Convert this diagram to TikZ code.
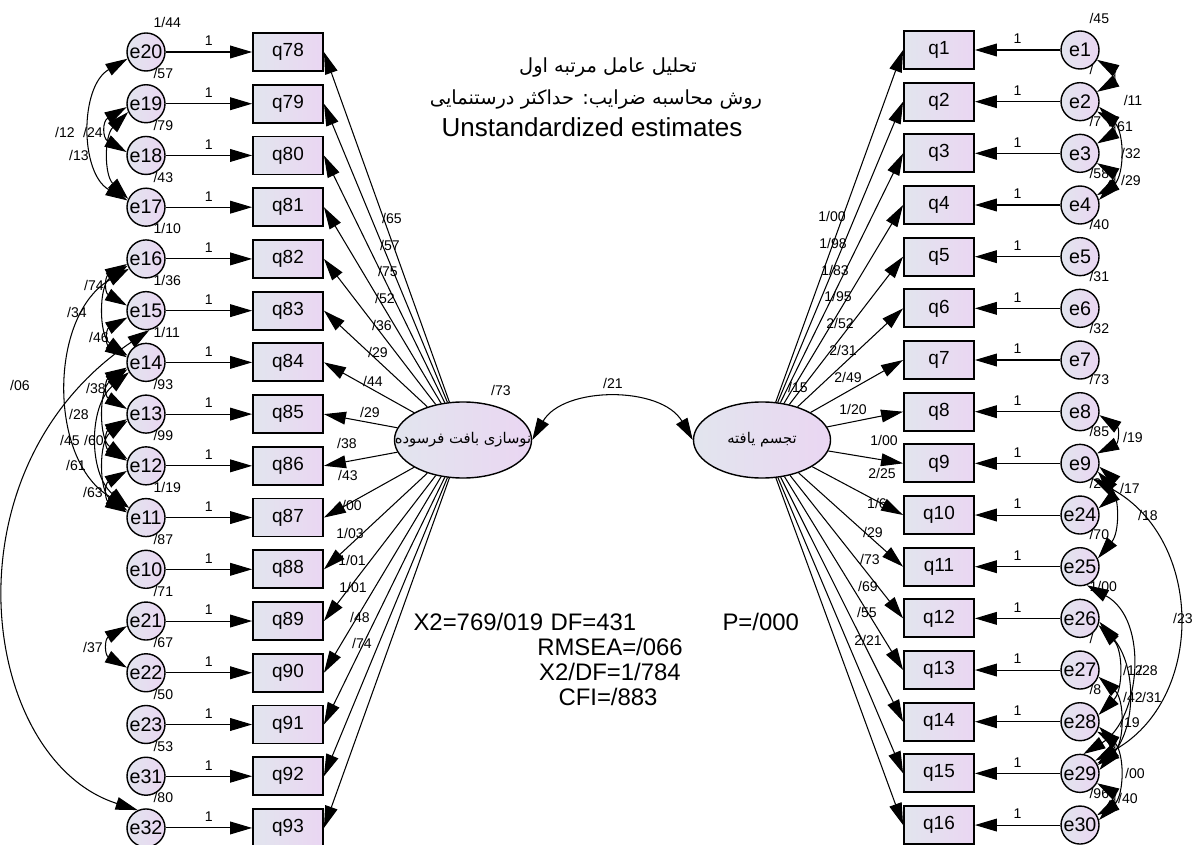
\documentclass[tikz,border=0pt]{standalone}
\usepackage{fontspec}
\setmainfont{Liberation Sans}
\newfontfamily\farsi[Script=Arabic]{DejaVu Sans}
\TeXXeTstate=1
\usetikzlibrary{arrows.meta, shapes.geometric}
\tikzset{>={Triangle[width=3.2mm,length=5.5mm]}}
\definecolor{fillA}{RGB}{226,229,238}
\definecolor{fillB}{RGB}{234,214,242}

\begin{document}
\begin{tikzpicture}[
    x = 0.025cm, y = -0.025cm,
    line width = 0.75pt,
    err/.style = {circle, draw, line width=1pt, minimum size=0.95cm,
        inner sep=0pt, left color=fillA, right color=fillB,
        font=\fontsize{14}{14}\selectfont},
    obs/.style = {rectangle, draw, line width=1.3pt, minimum width=1.75cm,
        minimum height=0.95cm, inner sep=0pt, left color=fillA,
        right color=fillB, font=\fontsize{13.5}{14}\selectfont},
    lat/.style = {ellipse, draw, line width=1pt, minimum width=3.425cm,
        minimum height=1.9cm, inner sep=0pt, left color=fillA,
        right color=fillB, font=\farsi\fontsize{10.5}{10.5}\selectfont},
    est/.style = {font=\fontsize{10}{10}\selectfont, inner sep=0pt},
    fit/.style = {font=\fontsize{17}{17}\selectfont, inner sep=0pt}
  ]
  \useasboundingbox (0,0) rectangle (1200,845);

  % title
  \node[font=\farsi\fontsize{13.8}{14}\selectfont] (t1) at (608,68)
    {\beginR تحلیل عامل مرتبه اول\endR};
  \node[font=\farsi\fontsize{13.8}{14}\selectfont] (t2) at (596,100)
    {\beginR روش محاسبه ضرایب: حداکثر درستنمایی\endR};
  \node[font=\fontsize{18.5}{18.5}\selectfont] (t3) at (592,127)
    {Unstandardized estimates};

  % latent variables
  \node[lat] (F1) at (463,440) {\makebox[0pt]{\beginR نوسازی بافت فرسوده\endR}};
  \node[lat] (F2) at (762,440) {\makebox[0pt]{\beginR تجسم یافته\endR}};
  \draw[<->] (F1.east) to[out=60, in=120] (F2.west);
  \node[est] (vF1) at (501,390) {/73};
  \node[est] (vF2) at (798,387) {/15};
  \node[est] (cF) at (613,383) {/21};

  % left indicators
  \foreach \e/\q/\v [count=\i from 0] in {20/78/{1/44}, 19/79/{/57},
      18/80/{/79}, 17/81/{/43}, 16/82/{1/10}, 15/83/{1/36}, 14/84/{1/11},
      13/85/{/93}, 12/86/{/99}, 11/87/{1/19}, 10/88/{/87}, 21/89/{/71},
      22/90/{/67}, 23/91/{/50}, 31/92/{/53}, 32/93/{/80}} {
    \node[err] (e\e) at (146, 52+51.73*\i) {e\e};
    \node[obs] (q\q) at (288, 52+51.73*\i) {q\q};
    \draw[->] (e\e) -- node[est, above=4pt] {1} (q\q);
    \node[est, anchor=west] (v\e) at (153, 22+51.73*\i) {\v};
  }

  % right indicators
  \foreach \e/\q/\v [count=\i from 0] in {1/1/{/45}, 2/2/{/}, 3/3/{/7},
      4/4/{/58}, 5/5/{/40}, 6/6/{/31}, 7/7/{/32}, 8/8/{/73}, 9/9/{/85},
      24/10/{/27}, 25/11/{/70}, 26/12/{1/00}, 27/13/{/}, 28/14/{/8},
      29/15/{}, 30/16/{/96}} {
    \node[err] (e\e) at (1080, 50+51.67*\i) {e\e};
    \node[obs] (q\q) at (939, 50+51.67*\i) {q\q};
    \draw[->] (e\e) -- node[est, above=4pt] {1} (q\q);
    \node[est, anchor=west] (v\e) at (1089, 18+51.67*\i) {\v};
  }

  % loadings
  \foreach \q in {78,...,93} \draw[->] (F1) -- (q\q.east);
  \foreach \q in {1,...,16} \draw[->] (F2) -- (q\q.west);
  \foreach \v/\lx/\ly [count=\i] in {{/65}/392/218, {/57}/390/245,
      {/75}/388/271, {/52}/385/298, {/36}/382/325, {/29}/378/352,
      {/44}/373/381, {/29}/370/412, {/38}/347/443, {/43}/348/475,
      {/00}/352/505, {1/03}/350/533, {1/01}/352/560, {1/01}/353/587,
      {/48}/360/617, {/74}/362/643}
    \node[est] (ll\i) at (\lx,\ly) {\v};
  \foreach \v/\lx/\ly [count=\i] in {{1/00}/832/216, {1/98}/833/243,
      {1/83}/835/270, {1/95}/838/296, {2/52}/840/323, {2/31}/843/350,
      {2/49}/848/377, {1/20}/853/409, {1/00}/884/440, {2/25}/882/473,
      {1/6}/877/503, {/29}/873/532, {/73}/870/559, {/69}/868/586,
      {/55}/867/612, {2/21}/868/640}
    \node[est] (rl\i) at (\lx,\ly) {\v};

  % left covariances
  \draw[<->] (e20.200) to[bend right=60] (e17.160);
  \draw[<->] (e19.205) to[bend right=45] (e17.155);
  \draw[<->] (e19.190) to[bend right=60, looseness=1.6] (e18.170);
  \draw[<->] (e16.195) to[bend right=60, looseness=1.6] (e15.165);
  \draw[<->] (e16.210) to[bend right=60] (e11.150);
  \draw[<->] (e16.200) to[bend right=55] (e14.160);
  \draw[<->] (e15.200) to[bend right=60, looseness=1.6] (e14.165);
  \draw[<->] (e14.195) to[bend right=60, looseness=1.6] (e13.165);
  \draw[<->] (e14.200) to[bend right=55] (e12.160);
  \draw[<->] (e14.210) to[bend right=50] (e11.150);
  \draw[<->] (e13.195) to[bend right=60, looseness=1.6] (e12.165);
  \draw[<->] (e13.200) to[bend right=55] (e11.160);
  \draw[<->] (e12.195) to[bend right=60, looseness=1.6] (e11.165);
  \draw[<->] (e15.-80) .. controls (-60,470) and (-20,760) .. (e32.115);
  \draw[<->] (e21.195) to[bend right=60, looseness=1.6] (e22.165);
  \foreach \v/\lx/\ly [count=\i] in {{/12}/65/132, {/24}/93/132,
      {/13}/79/155, {/74}/94/285, {/34}/77/312, {/46}/99/337,
      {/38}/96/388, {/28}/79/414, {/45}/70/440, {/60}/94/440,
      {/61}/76/465, {/63}/93/492, {/06}/20/385, {/37}/93/647}
    \node[est] (lc\i) at (\lx,\ly) {\v};

  % right covariances
  \draw[<->] (e1.-30) to[bend left=60, looseness=1.6] (e2.30);
  \draw[<->] (e2.-30) to[bend left=60, looseness=1.6] (e3.30);
  \draw[<->] (e2.-15) to[bend left=45] (e4.15);
  \draw[<->] (e3.-30) to[bend left=60, looseness=1.6] (e4.30);
  \draw[<->] (e8.-10) to[bend left=60, looseness=1.6] (e9.30);
  \draw[<->] (e9.-10) to[bend left=50] (e24.20);
  \draw[<->] (e9.-25) to[bend left=40] (e25.25);
  \draw[<->] (e9.-50) .. controls (1205,540) and (1205,700) .. (e29.40);
  \draw[<->] (e25.-70) .. controls (1150,620) and (1140,720) .. (e29.80);
  \draw[<->] (e26.-20) to[bend left=45] (e28.20);
  \draw[<->] (e26.-10) to[bend left=40] (e29.10);
  \draw[<->] (e27.-20) to[bend left=50] (e29.25);
  \draw[<->] (e28.-30) to[bend left=60, looseness=1.6] (e29.30);
  \draw[<->] (e29.-30) to[bend left=60, looseness=1.6] (e30.30);
  \draw[<->] (e28.-15) to[bend left=45] (e30.15);
  \foreach \v/\lx/\ly [count=\i] in {{/11}/1133/100, {61}/1125/127,
      {/32}/1131/153, {/29}/1131/180, {/19}/1133/437, {/17}/1130/488,
      {/18}/1148/515, {/23}/1183/618, {/12}/1133/670, {/28}/1148/670,
      {/42}/1133/697, {/31}/1152/697, {/19}/1130/722, {/00}/1135/773,
      {/40}/1128/798}
    \node[est] (rc\i) at (\lx,\ly) {\v};

  % fit
  \node[fit, anchor=west] (chi) at (413,622) {X2=769/019};
  \node[fit, anchor=west] (df) at (550,622) {DF=431};
  \node[fit, anchor=west] (pv) at (722,622) {P=/000};
  \node[fit] (rmsea) at (610,647) {RMSEA=/066};
  \node[fit] (ratio) at (610,672) {X2/DF=1/784};
  \node[fit] (cfi) at (608,697) {CFI=/883};
\end{tikzpicture}
\end{document}
